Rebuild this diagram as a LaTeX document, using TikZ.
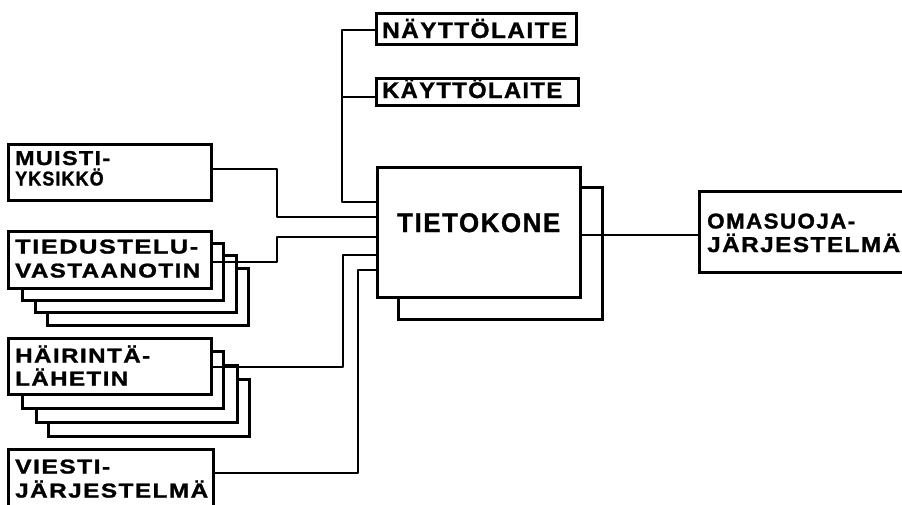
\documentclass[tikz,border=0pt]{standalone}
\usepackage{fontspec}
\setmainfont{Liberation Sans}[BoldFeatures={LetterSpace=6, FakeBold=1.2}]
\usepackage{graphicx}
\newcommand{\fitw}[2]{\resizebox{#1pt}{\height}{\bfseries #2}}
\tikzset{
  box/.style={draw, line width=2.6pt, fill=white, inner sep=0pt, anchor=north west},
  wire/.style={line width=2.3pt, line join=round},
  lab/.style={anchor=base west, inner sep=0pt},
  fs/.style={font=\fontsize{20}{20}\selectfont},
  fm/.style={font=\fontsize{22.5}{22.5}\selectfont},
  fb/.style={font=\fontsize{27}{27}\selectfont},
  fr/.style={font=\fontsize{21.5}{21.5}\selectfont}
}
\begin{document}
\begin{tikzpicture}[x=1pt,y=-1pt]
\useasboundingbox (0,0) rectangle (902,504);
\clip (0,0) rectangle (902,504);
\fill[white] (0,0) rectangle (902,504);

% top boxes
\node[box, minimum width=200pt, minimum height=31pt] (nay) at (375,12) {};
\node[box, minimum width=202pt, minimum height=27pt] (kay) at (375,77) {};
\node[lab, fm] (tnay) at (382,38) {\fitw{185}{NÄYTTÖLAITE}};
\node[lab, fm] (tkay) at (382,98) {\fitw{180}{KÄYTTÖLAITE}};

% computer
\node[box, minimum width=204pt, minimum height=132pt] (tkb) at (397,186) {};
\node[box, minimum width=203pt, minimum height=130pt] (tk) at (376,166) {};
\node[lab, fb] (ttk) at (397,232) {\fitw{163}{TIETOKONE}};

% own protection system
\node[box, minimum width=230pt, minimum height=81pt] (oma) at (698,190) {};
\node[lab, fr] (toma1) at (707,228.5) {\fitw{148}{OMASUOJA-}};
\node[lab, fr] (toma2) at (707,252) {\fitw{193}{JÄRJESTELMÄ}};

% memory
\node[box, minimum width=203pt, minimum height=56pt] (mui) at (7,143) {};
\node[lab, fs] (tmui1) at (15,165) {\fitw{95}{MUISTI-}};
\node[lab, fs] (tmui2) at (15,185.5) {\scalebox{0.9}[1]{\bfseries YKSIKKÖ}};

% receivers (stack)
\node[box, minimum width=201pt, minimum height=57pt] (tied3) at (46,267) {};
\node[box, minimum width=201pt, minimum height=57pt] (tied2) at (34,254) {};
\node[box, minimum width=201pt, minimum height=57pt] (tied1) at (21,242) {};
\node[box, minimum width=203pt, minimum height=57pt] (tied) at (7,230) {};
\node[lab, fs] (ttied1) at (15,253.5) {\fitw{183}{TIEDUSTELU-}};
\node[lab, fs] (ttied2) at (15,277.5) {\fitw{185}{VASTAANOTIN}};

% jammers (stack)
\node[box, minimum width=201pt, minimum height=57pt] (hai3) at (47,378) {};
\node[box, minimum width=201pt, minimum height=57pt] (hai2) at (35,364) {};
\node[box, minimum width=201pt, minimum height=57pt] (hai1) at (21,350) {};
\node[box, minimum width=203pt, minimum height=56pt] (hai) at (7,337) {};
\node[lab, fs] (thai1) at (15,362.5) {\fitw{135}{HÄIRINTÄ-}};
\node[lab, fs] (thai2) at (15,385.5) {\fitw{113}{LÄHETIN}};

% communication system
\node[box, minimum width=205pt, minimum height=70pt] (vie) at (7,448) {};
\node[lab, fs] (tvie1) at (15,473.5) {\fitw{95}{VIESTI-}};
\node[lab, fs] (tvie2) at (15,497.5) {\fitw{193}{JÄRJESTELMÄ}};

% connectors
\coordinate (jn) at (342,30);
\coordinate (jk) at (342,97);
\draw[wire] (nay.west |- jn) -- (jn) -- (342,202) -- (tk.west |- 0,202);
\draw[wire] (jk) -- (kay.west |- jk);
\draw[wire] (mui.east |- 0,169) -- (277,169) -- (277,217) -- (tk.west |- 0,217);
\draw[wire] (tied.east |- 0,262) -- (277,262) -- (277,237) -- (tk.west |- 0,237);
\draw[wire] (hai.east |- 0,367) -- (343,367) -- (343,255) -- (tk.west |- 0,255);
\draw[wire] (vie.east |- 0,473) -- (358,473) -- (358,270) -- (tk.west |- 0,270);
\draw[wire] (tk.east |- 0,235) -- (oma.west |- 0,235);
\end{tikzpicture}
\end{document}
